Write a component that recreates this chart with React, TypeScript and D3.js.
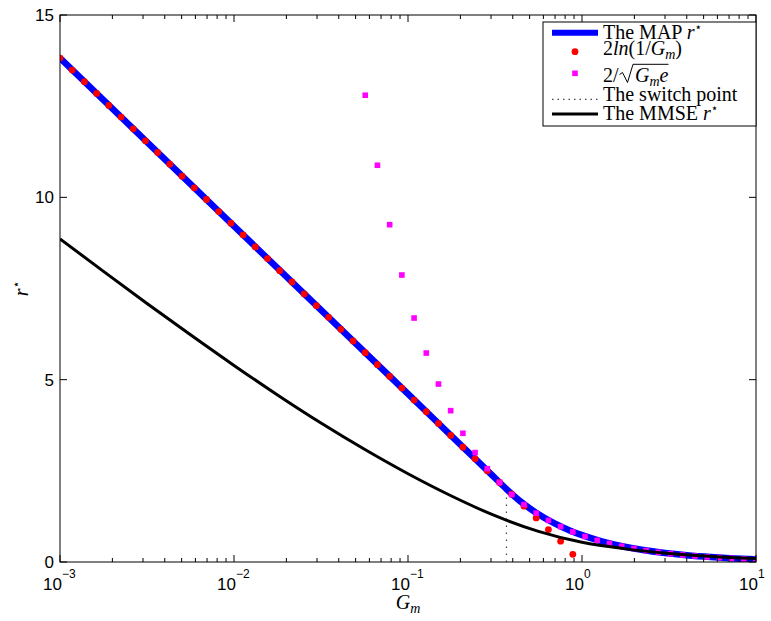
import React from "react";
import * as d3 from "d3";

// sample grid of G_m used for the marker series (log spaced, 1e-3 .. 10)
const gmGrid = [
  0.001, 0.001175, 0.001381, 0.001623, 0.001908, 0.002243, 0.002636, 0.003098,
  0.003641, 0.004279, 0.005029, 0.005911, 0.006947, 0.008165, 0.009596, 0.01128,
  0.01326, 0.01558, 0.01831, 0.02154, 0.02532, 0.02976, 0.03498, 0.04111,
  0.04832, 0.05679, 0.06674, 0.07844, 0.09219, 0.1084, 0.1274, 0.1497,
  0.1759, 0.2068, 0.2430, 0.2856, 0.3357, 0.3945, 0.4642, 0.5455,
  0.6412, 0.7536, 0.8857, 1.041, 1.224, 1.438, 1.691, 1.987,
  2.335, 2.745, 3.226, 3.791, 4.456, 5.237, 6.155, 7.234,
  8.503, 10,
];

// red dots: 2 ln(1/G_m), first points of the grid
const logRuleValues = [
  13.82, 13.49, 13.17, 12.85, 12.52, 12.2, 11.88, 11.55, 11.23, 10.91, 10.58,
  10.26, 9.94, 9.61, 9.29, 8.97, 8.64, 8.32, 7.99, 7.68, 7.35, 7.03, 6.71,
  6.38, 6.06, 5.74, 5.41, 5.09, 4.77, 4.44, 4.12, 3.8, 3.47, 3.15, 2.83, 2.5,
  2.18, 1.86, 1.53, 1.21, 0.89, 0.57, 0.21,
];

// magenta squares: 2/(G_m e), last points of the grid
const invRuleValues = [
  12.8, 10.88, 9.25, 7.87, 6.69, 5.73, 4.88, 4.15, 3.53, 3.0, 2.56, 2.18,
  1.85, 1.575, 1.34, 1.14, 0.97, 0.825, 0.70, 0.595, 0.508, 0.432, 0.368,
  0.313, 0.266, 0.226, 0.193, 0.164, 0.139, 0.119, 0.101, 0.086, 0.0736,
];

// The MAP r*
const mapGm = [0.001, 0.01, 0.1, 0.2, 0.3, 0.368, 0.45, 0.55, 0.7, 0.85, 1, 1.3, 1.7, 2.2, 3, 4, 5.5, 7.5, 10];
const mapValues = [13.82, 9.21, 4.61, 3.22, 2.41, 2.0, 1.635, 1.338, 1.051, 0.866, 0.736, 0.566, 0.433, 0.334, 0.245, 0.184, 0.134, 0.098, 0.074];

// The MMSE r*
const mmseGm = [0.001, 0.001778, 0.003162, 0.005623, 0.01, 0.01778, 0.03162, 0.05623, 0.1, 0.1778, 0.3162, 0.5623, 1, 1.778, 3.162, 5.623, 10];
const mmseValues = [8.86, 7.97, 7.09, 6.23, 5.39, 4.58, 3.81, 3.09, 2.42, 1.81, 1.27, 0.84, 0.54, 0.36, 0.235, 0.15, 0.095];

const switchPoint = 0.368;
const switchTop = 1.8;

const yTicks = [0, 5, 10, 15];
const xMajorExp = [-3, -2, -1, 0, 1];

const W = 771;
const H = 621;
const margin = { top: 15, right: 15, bottom: 59, left: 60 };

const sans = "'Liberation Sans', Arial, sans-serif";
const serif = "'Liberation Serif', 'Times New Roman', serif";
const starFont = "'DejaVu Sans', sans-serif";

const App = () => {
  const x = d3.scaleLog().domain([1e-3, 10]).range([margin.left, W - margin.right]);
  const y = d3.scaleLinear().domain([0, 15]).range([H - margin.bottom, margin.top]);
  const [x0, x1] = x.range();
  const [yb, yt] = y.range();

  const line = d3
    .line<[number, number]>()
    .x((d) => x(d[0]))
    .y((d) => y(d[1]))
    .curve(d3.curveMonotoneX);

  const mapPts = mapGm.map((g, i) => [g, mapValues[i]] as [number, number]);
  const mmsePts = mmseGm.map((g, i) => [g, mmseValues[i]] as [number, number]);
  const logGm = gmGrid.slice(0, logRuleValues.length);
  const invGm = gmGrid.slice(gmGrid.length - invRuleValues.length);

  const xTicks = x.ticks();
  const isMajor = (t: number) => Math.abs(Math.log10(t) - Math.round(Math.log10(t))) < 1e-6;

  // legend
  const lx = 543;
  const ly = 22;
  const lw = 213;
  const lh = 104;
  const sx0 = 552;
  const sx1 = 598;
  const tx = 603;

  return (
    <svg width={W} height={H} style={{ position: "absolute", left: 0, top: 0, background: "#fff" }}>
      <defs>
        <clipPath id="plot">
          <rect x={x0} y={yt} width={x1 - x0} height={yb - yt} />
        </clipPath>
      </defs>

      <g clipPath="url(#plot)">
        <path d={line(mapPts) || ""} fill="none" stroke="#0000ff" strokeWidth={6.5} />
        {logGm.map((g, i) => (
          <circle key={"r" + i} cx={x(g)} cy={y(logRuleValues[i])} r={3.4} fill="#ff0000" />
        ))}
        {invGm.map((g, i) => (
          <rect key={"m" + i} x={x(g) - 2.8} y={y(invRuleValues[i]) - 2.8} width={5.6} height={5.6} fill="#ff00ff" />
        ))}
        <line x1={x(switchPoint)} x2={x(switchPoint)} y1={y(0)} y2={y(switchTop)} stroke="#444" strokeWidth={1.2} strokeDasharray="1.5,5.5" />
        <path d={line(mmsePts) || ""} fill="none" stroke="#000" strokeWidth={3} />
      </g>

      {/* axes box */}
      <rect x={x0} y={yt} width={x1 - x0} height={yb - yt} fill="none" stroke="#000" strokeWidth={1} />

      {xTicks.map((t, i) => {
        const len = isMajor(t) ? 7 : 4;
        const px = x(t);
        return (
          <g key={"xt" + i}>
            <line x1={px} x2={px} y1={yb} y2={yb - len} stroke="#000" />
            <line x1={px} x2={px} y1={yt} y2={yt + len} stroke="#000" />
          </g>
        );
      })}
      {yTicks.map((t) => (
        <g key={"yt" + t}>
          <line x1={x0} x2={x0 + 7} y1={y(t)} y2={y(t)} stroke="#000" />
          <line x1={x1} x2={x1 - 7} y1={y(t)} y2={y(t)} stroke="#000" />
          <text x={x0 - 6} y={y(t) + 6} textAnchor="end" fontFamily={sans} fontSize={17}>
            {t}
          </text>
        </g>
      ))}
      {xMajorExp.map((e) => (
        <text key={"xl" + e} x={x(Math.pow(10, e)) - 17} y={590} fontFamily={sans} fontSize={17}>
          10
          <tspan dy={-12} fontSize={12}>
            {e < 0 ? "\u2212" + -e : e}
          </tspan>
        </text>
      ))}

      {/* axis titles */}
      <text x={(x0 + x1) / 2} y={609} textAnchor="middle" fontFamily={serif} fontSize={20} fontStyle="italic">
        G<tspan dy={4} fontSize={14}>m</tspan>
      </text>
      <text transform={`translate(28,${(yb + yt) / 2}) rotate(-90)`} textAnchor="middle" fontFamily={serif} fontSize={20}>
        <tspan fontStyle="italic">r</tspan>
        <tspan dy={-8} fontSize={12} fontFamily={starFont}>{"\u22c6"}</tspan>
      </text>

      {/* legend */}
      <rect x={lx} y={ly} width={lw} height={lh} fill="#fff" stroke="#000" strokeWidth={1} />
      <line x1={sx0} x2={sx1} y1={32.7} y2={32.7} stroke="#0000ff" strokeWidth={6} />
      <text x={tx} y={38.5} fontFamily={serif} fontSize={20}>
        The MAP <tspan fontStyle="italic">r</tspan>
        <tspan dy={-8} fontSize={12} fontFamily={starFont}>{"\u22c6"}</tspan>
      </text>
      <circle cx={(sx0 + sx1) / 2} cy={51.7} r={3.4} fill="#ff0000" />
      <text x={tx} y={55} fontFamily={serif} fontSize={20}>
        2<tspan fontStyle="italic">ln</tspan>(1/<tspan fontStyle="italic">G</tspan>
        <tspan dy={4} fontSize={14} fontStyle="italic">m</tspan>
        <tspan dy={-4}>)</tspan>
      </text>
      <rect x={(sx0 + sx1) / 2 - 2.8} y={73.3 - 2.8} width={5.6} height={5.6} fill="#ff00ff" />
      <text x={tx} y={81.7} fontFamily={serif} fontSize={20}>
        2/
      </text>
      <path d="M619.5,74.5 L622.5,72.5 L627.5,82.5 L633,64.3 L668.5,64.3" fill="none" stroke="#000" strokeWidth={1} />
      <text x={635} y={81.7} fontFamily={serif} fontSize={20} fontStyle="italic">
        G<tspan dy={4} fontSize={14}>m</tspan>
        <tspan dy={-4}>e</tspan>
      </text>
      <line x1={sx0} x2={sx1} y1={99.3} y2={99.3} stroke="#444" strokeWidth={1.2} strokeDasharray="1.5,4" />
      <text x={tx} y={101} fontFamily={serif} fontSize={20}>
        The switch point
      </text>
      <line x1={sx0} x2={sx1} y1={114} y2={114} stroke="#000" strokeWidth={3} />
      <text x={tx} y={120} fontFamily={serif} fontSize={20}>
        The MMSE <tspan fontStyle="italic">r</tspan>
        <tspan dy={-8} fontSize={12} fontFamily={starFont}>{"\u22c6"}</tspan>
      </text>
    </svg>
  );
};

export default App;
